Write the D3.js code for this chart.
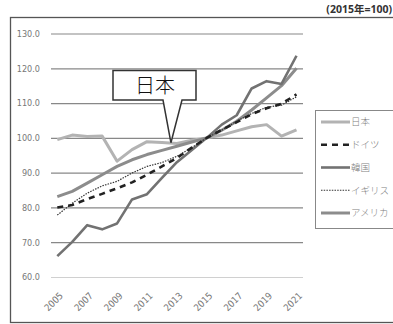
<!DOCTYPE html>
<html>
<head>
<meta charset="utf-8">
<script src="https://cdn.jsdelivr.net/npm/d3@7"></script>
<style>
  html, body { margin: 0; padding: 0; background: #fff; }
  #chart { width: 393px; height: 324px; overflow: hidden; }
</style>
</head>
<body>
<div id="chart"></div>
<script>
const years = d3.range(2005, 2022);
const japan   = [99.5, 100.8, 100.4, 100.5, 93.3, 96.6, 98.9, 98.7, 98.4, 99.3, 100, 100.8, 102.0, 103.2, 103.8, 100.5, 102.3];
const germany = [80.0, 80.7, 82.4, 83.9, 85.5, 87.2, 89.4, 91.8, 94.2, 97.2, 100, 102.3, 104.5, 106.8, 108.5, 109.8, 112.5];
const korea   = [66.0, 70.1, 74.9, 73.7, 75.4, 82.3, 83.8, 88.5, 93.0, 96.5, 100, 103.8, 106.5, 114.2, 116.3, 115.5, 123.6];
const uk      = [77.8, 81.2, 84.1, 86.2, 87.5, 89.9, 91.8, 92.9, 94.7, 97.2, 100, 102.2, 104.8, 107.0, 108.8, 109.4, 111.8];
const usa     = [83.1, 84.6, 87.0, 89.4, 91.8, 93.7, 95.2, 96.4, 97.6, 98.8, 100, 102.2, 104.8, 108.0, 111.5, 115.0, 120.0];
const yTicks = [60, 70, 80, 90, 100, 110, 120, 130];
const xTicks = [2005, 2007, 2009, 2011, 2013, 2015, 2017, 2019, 2021];
const unitLabel = "(2015年=100)";
const calloutLabel = "日本";

const series = [
  { name: "日本",   values: japan,   color: "#b3b3b3", width: 3,   dash: null },
  { name: "ドイツ", values: germany, color: "#222",    width: 2.6, dash: "6,5" },
  { name: "韓国",   values: korea,   color: "#727272", width: 2.6, dash: null },
  { name: "イギリス", values: uk,    color: "#333",    width: 1.2, dash: "1.5,1.2" },
  { name: "アメリカ", values: usa,   color: "#8c8c8c", width: 3,   dash: null }
];

const numFont = "'Liberation Sans Narrow', 'Arial Narrow', 'DejaVu Sans Condensed', sans-serif";
const jpFont = "'Noto Sans CJK JP', 'Noto Sans', sans-serif";

const svg = d3.select("#chart").append("svg")
  .attr("width", 393).attr("height", 324);

// outer frame (right side runs off the picture)
svg.append("rect")
  .attr("x", 10.5).attr("y", 17.5).attr("width", 400).attr("height", 305)
  .attr("fill", "none").attr("stroke", "#555").attr("stroke-width", 1.3);

svg.append("text")
  .attr("x", 392).attr("y", 13)
  .attr("text-anchor", "end")
  .style("font-family", "'Open Sans', 'Noto Sans CJK JP', sans-serif")
  .style("font-size", "10.5px").style("font-weight", "bold")
  .attr("fill", "#333")
  .text(unitLabel);

const x = d3.scaleLinear().domain([2005, 2021]).range([57.3, 296.5]);
const y = d3.scaleLinear().domain([60, 130]).range([277, 33.5]);

// y axis + gridlines
const yAxis = svg.append("g")
  .attr("transform", "translate(51,0)")
  .call(d3.axisLeft(y).tickValues(yTicks).tickFormat(d3.format(".1f"))
    .tickSizeInner(-252).tickSizeOuter(0).tickPadding(11));
yAxis.select(".domain").remove();
yAxis.selectAll(".tick line")
  .attr("stroke", d => d === 60 ? "#d0d0d0" : "#888")
  .attr("stroke-width", 1.2);
yAxis.selectAll(".tick text")
  .attr("fill", "#777")
  .style("font-family", numFont).style("font-size", "9px");

// x labels, slanted
svg.append("g").selectAll("text")
  .data(xTicks)
  .join("text")
  .attr("transform", d => `translate(${x(d) + 4},${y(60) + 17}) rotate(-45)`)
  .attr("text-anchor", "end")
  .attr("dy", "0.35em")
  .attr("fill", "#777")
  .style("font-family", numFont).style("font-size", "9.5px")
  .text(d => d);

// lines
const line = d3.line()
  .x((d, i) => x(years[i]))
  .y(d => y(d));

svg.append("g").selectAll("path")
  .data([series[0], series[4], series[2], series[3], series[1]])
  .join("path")
  .attr("d", d => line(d.values))
  .attr("fill", "none")
  .attr("stroke", d => d.color)
  .attr("stroke-width", d => d.width)
  .attr("stroke-dasharray", d => d.dash)
  .attr("stroke-linejoin", "round");

// callout for Japan
const tipX = x(2012.6), tipY = y(98.6);
const box = { x0: 113, x1: 196, y0: 70.5, y1: 100 };
const callout = svg.append("g");
callout.append("path")
  .attr("d", `M${box.x0},${box.y0} H${box.x1} V${box.y1} H182 L${tipX},${tipY} L163,${box.y1} H${box.x0} Z`)
  .attr("fill", "#fff").attr("stroke", "#333").attr("stroke-width", 1.5)
  .attr("stroke-linejoin", "miter");
callout.append("text")
  .attr("x", 155).attr("y", 93)
  .attr("text-anchor", "middle")
  .style("font-family", jpFont).style("font-size", "20px").style("font-weight", 300)
  .attr("fill", "#111")
  .text(calloutLabel);

// legend
const legend = svg.append("g");
legend.append("rect")
  .attr("x", 315.5).attr("y", 110.5).attr("width", 90).attr("height", 118)
  .attr("fill", "#fff").attr("stroke", "#888").attr("stroke-width", 1);
const ly = d3.scalePoint().domain(series.map(d => d.name)).range([122, 213]);
const items = legend.selectAll("g.item").data(series).join("g")
  .attr("class", "item")
  .attr("transform", d => `translate(0,${ly(d.name)})`);
items.append("line")
  .attr("x1", 321).attr("x2", 350).attr("y1", 0).attr("y2", 0)
  .attr("stroke", d => d.color)
  .attr("stroke-width", d => d.width)
  .attr("stroke-dasharray", d => d.dash);
items.append("text")
  .attr("x", 351).attr("y", 0).attr("dy", "0.35em")
  .style("font-family", jpFont).style("font-size", "9.5px").style("font-weight", 300)
  .attr("fill", "#808080")
  .text(d => d.name);
</script>
</body>
</html>
